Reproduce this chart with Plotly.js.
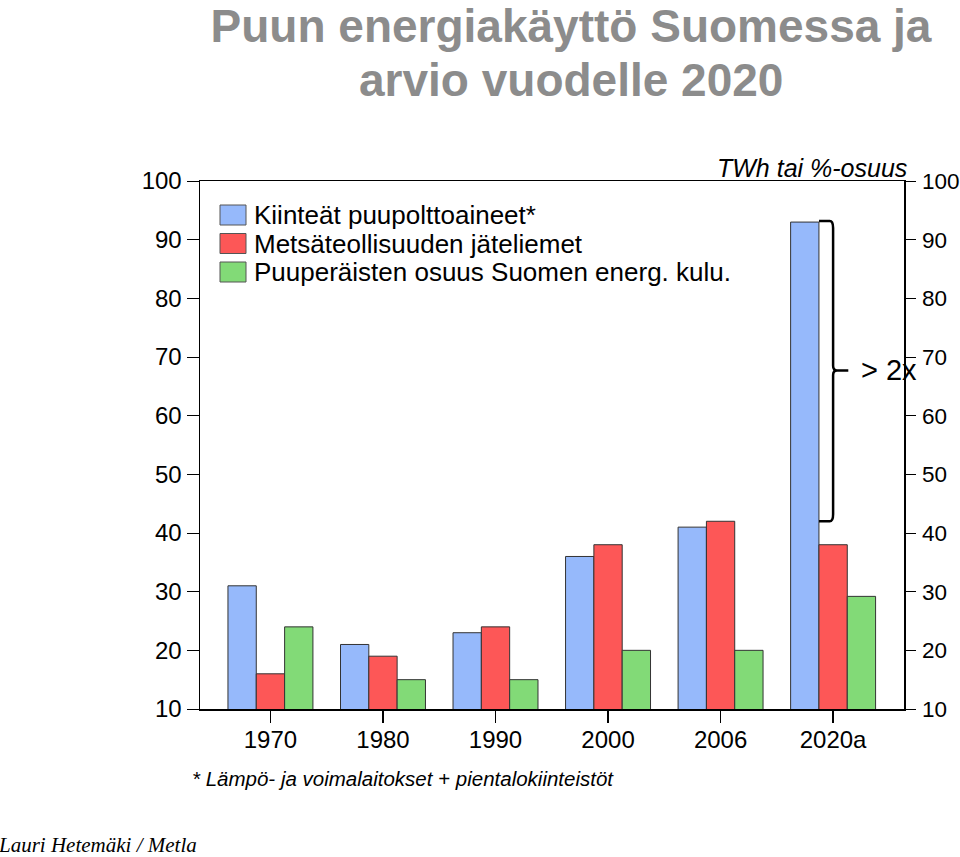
<!DOCTYPE html>
<html>
<head>
<meta charset="utf-8">
<script src="https://cdn.plot.ly/plotly-3.0.1.min.js"></script>
<style>html,body{margin:0;padding:0;background:#fff;}#chart{width:960px;height:857px;}</style>
</head>
<body>
<div id="chart"></div>
<script>
// ---- data ----
const years = ['1970', '1980', '1990', '2000', '2006', '2020a'];
const solidFuels = [31, 21, 23, 36, 41, 93];      // Kiinteät puupolttoaineet*
const blackLiquors = [16, 19, 24, 38, 42, 38];    // Metsäteollisuuden jäteliemet
const woodShare = [24, 15, 15, 20, 20, 29.2];     // Puuperäisten osuus
const seriesNames = ['Kiinteät puupolttoaineet*', 'Metsäteollisuuden jäteliemet', 'Puuperäisten osuus Suomen energ. kulu.'];
const seriesColors = ['#96b9fb', '#fd5757', '#82da77'];
const yTicks = [10, 20, 30, 40, 50, 60, 70, 80, 90, 100];
const titleLine1 = 'Puun energiakäyttö Suomessa ja';
const titleLine2 = 'arvio vuodelle 2020';

const seriesValues = [solidFuels, blackLiquors, woodShare];
const traces = seriesValues.map((vals, i) => ({
  type: 'bar',
  x: years,
  y: vals,
  name: seriesNames[i],
  marker: { color: seriesColors[i], line: { color: '#333333', width: 1 } },
  showlegend: false,
  hoverinfo: 'x+y'
}));
// invisible companion trace so the right-hand axis is drawn
traces.push({
  type: 'scatter', mode: 'markers', x: years, y: woodShare, yaxis: 'y2',
  marker: { opacity: 0 }, showlegend: false, hoverinfo: 'skip'
});

// plot area in pixels: left 200, right 904, top 181, bottom 709
const L = 200, R = 904, T = 181, B = 709;
const px = v => (v - L) / (R - L);
const py = v => (B - v) / (B - T);

const shapes = [];
const annotations = [];
const sans = 'Liberation Sans, Arial, sans-serif';
const titleFont = { family: sans, size: 46, color: '#8c8c8c' };

// second title line
annotations.push({
  xref: 'paper', yref: 'paper', x: px(571), y: py(80), xanchor: 'center', yanchor: 'middle',
  text: '<b>' + titleLine2 + '</b>', showarrow: false, font: titleFont
});

// custom legend
seriesNames.forEach((n, i) => {
  const cy = 215 + i * 28.5;
  shapes.push({
    type: 'rect', xref: 'paper', yref: 'paper',
    x0: px(220), x1: px(246), y0: py(cy - 10), y1: py(cy + 10),
    fillcolor: seriesColors[i], line: { color: '#555555', width: 1 }
  });
  annotations.push({
    xref: 'paper', yref: 'paper', x: px(252), y: py(cy), xanchor: 'left', yanchor: 'middle',
    text: n, showarrow: false, font: { family: sans, size: 26, color: '#000' }
  });
});

// bracket (>2x) from 2006 metsäteollisuus level to 2020a top
const bTop = solidFuels[5] + 0.2, bBot = blackLiquors[4], bMid = (bTop + bBot) / 2 + 0.1;
shapes.push({
  type: 'path', xref: 'x', yref: 'y',
  path: `M 4.875 ${bTop} L 4.97 ${bTop} Q 5.0 ${bTop} 5.0 ${bTop - 1.2} L 5.0 ${bMid + 0.8} Q 5.0 ${bMid} 5.035 ${bMid} L 5.135 ${bMid} M 5.035 ${bMid} Q 5.0 ${bMid} 5.0 ${bMid - 0.8} L 5.0 ${bBot + 1.2} Q 5.0 ${bBot} 4.97 ${bBot} L 4.875 ${bBot}`,
  line: { color: '#000', width: 2.5 }
});
annotations.push({
  xref: 'x', yref: 'y', x: 5.23, y: bMid, xanchor: 'left', yanchor: 'middle',
  text: '> 2x', showarrow: false, font: { family: sans, size: 29, color: '#000' }
});

// unit label
annotations.push({
  xref: 'paper', yref: 'paper', x: px(909), y: py(168), xanchor: 'right', yanchor: 'middle',
  text: '<i>TWh tai %-osuus</i>', showarrow: false, font: { family: sans, size: 25, color: '#000' }
});
// footnote
annotations.push({
  xref: 'paper', yref: 'paper', x: px(190), y: py(778), xanchor: 'left', yanchor: 'middle',
  text: '<i>* Lämpö- ja voimalaitokset + pientalokiinteistöt</i>', showarrow: false, font: { family: sans, size: 20.5, color: '#000' }
});
// author
annotations.push({
  xref: 'paper', yref: 'paper', x: px(-4), y: py(845), xanchor: 'left', yanchor: 'middle',
  text: '<i>Lauri Hetemäki / Metla</i>', showarrow: false, font: { family: 'Liberation Serif, Times New Roman, serif', size: 21, color: '#000' }
});

const axisFont = { family: sans, size: 24, color: '#000' };

const layout = {
  width: 960, height: 857,
  margin: { l: L, r: 960 - R, t: T, b: 857 - B, pad: 0 },
  paper_bgcolor: '#fff', plot_bgcolor: '#fff',
  title: {
    text: '<b>' + titleLine1 + '</b>',
    x: 571 / 960, xanchor: 'center', xref: 'container',
    y: 1 - 10 / 857, yanchor: 'top', yref: 'container',
    font: titleFont
  },
  barmode: 'group',
  bargap: 0.245,
  bargroupgap: 0,
  xaxis: {
    type: 'category',
    range: [-0.626, 5.63],
    showline: true, linecolor: '#000', linewidth: 1.5, mirror: true,
    ticks: 'outside', ticklen: 12, tickcolor: '#000', tickwidth: 1.5,
    showgrid: false, zeroline: false, fixedrange: true,
    tickfont: axisFont, ticklabelstandoff: -3
  },
  yaxis: {
    range: [10, 100], tickvals: yTicks, ticktext: yTicks.map(String),
    showline: true, linecolor: '#000', linewidth: 1.5,
    ticks: 'outside', ticklen: 12, tickcolor: '#000', tickwidth: 1,
    showgrid: false, zeroline: false, fixedrange: true,
    tickfont: axisFont, ticklabelstandoff: 0
  },
  yaxis2: {
    overlaying: 'y', side: 'right', anchor: 'x',
    range: [10, 100], tickvals: yTicks, ticktext: yTicks.map(String),
    showline: true, linecolor: '#000', linewidth: 1.5,
    ticks: 'outside', ticklen: 10, tickcolor: '#000', tickwidth: 1,
    showgrid: false, zeroline: false, fixedrange: true,
    tickfont: { family: sans, size: 22.5, color: '#000' }, ticklabelstandoff: 2
  },
  shapes: shapes,
  annotations: annotations,
  showlegend: false
};

Plotly.newPlot('chart', traces, layout, { displayModeBar: false, staticPlot: true });
</script>
</body>
</html>
